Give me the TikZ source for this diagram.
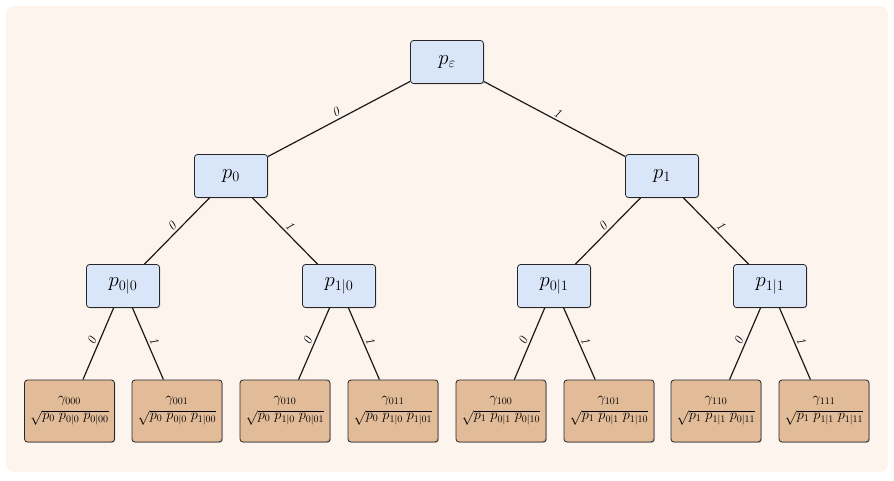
\documentclass[tikz,border=0pt]{standalone}
\usepackage{amsmath}
\usetikzlibrary{shadows}
\definecolor{bgc}{HTML}{FDF4EE}
\definecolor{bluefill}{HTML}{D9E5F8}
\definecolor{leaffill}{HTML}{E2BC98}
\definecolor{edgec}{HTML}{1A1A1A}
\begin{document}
\begin{tikzpicture}[x=1pt,y=-1pt,
  boxbase/.style={draw=black!85, rounded corners=3pt, line width=0.8pt,
    drop shadow={shadow xshift=0.9pt, shadow yshift=-0.9pt, opacity=0.4}},
  inner/.style={boxbase, fill=bluefill, minimum width=73pt, minimum height=43pt,
    font=\fontsize{20}{24}\selectfont},
  leaf/.style={boxbase, fill=leaffill, minimum width=90pt, minimum height=62pt,
    inner sep=1pt, align=center, font=\fontsize{14.5}{17}\selectfont},
  edge/.style={draw=edgec, line width=1.2pt},
  lab/.style={midway, above, sloped, inner sep=2pt, font=\fontsize{13}{14}\selectfont\itshape}
]
\useasboundingbox (0,0) rectangle (894,480);
\fill[bgc, rounded corners=8pt] (6,6) rectangle (888,472);

\node[inner] (r) at (447,62) {$p_\varepsilon$};
\node[inner] (a) at (231,176) {$p_0$};
\node[inner] (b) at (662,176) {$p_1$};
\node[inner] (aa) at (123,286) {$p_{0|0}$};
\node[inner] (ab) at (339,286) {$p_{1|0}$};
\node[inner] (ba) at (554,286) {$p_{0|1}$};
\node[inner] (bb) at (770,286) {$p_{1|1}$};

\node[leaf] (l000) at (69.5,411) {$\gamma_{000}$\\$\sqrt{p_0\;p_{0|0}\;p_{0|00}}$};
\node[leaf] (l001) at (177,411) {$\gamma_{001}$\\$\sqrt{p_0\;p_{0|0}\;p_{1|00}}$};
\node[leaf] (l010) at (285,411) {$\gamma_{010}$\\$\sqrt{p_0\;p_{1|0}\;p_{0|01}}$};
\node[leaf] (l011) at (393,411) {$\gamma_{011}$\\$\sqrt{p_0\;p_{1|0}\;p_{1|01}}$};
\node[leaf] (l100) at (501,411) {$\gamma_{100}$\\$\sqrt{p_1\;p_{0|1}\;p_{0|10}}$};
\node[leaf] (l101) at (609,411) {$\gamma_{101}$\\$\sqrt{p_1\;p_{0|1}\;p_{1|10}}$};
\node[leaf] (l110) at (716,411) {$\gamma_{110}$\\$\sqrt{p_1\;p_{1|1}\;p_{0|11}}$};
\node[leaf] (l111) at (824,411) {$\gamma_{111}$\\$\sqrt{p_1\;p_{1|1}\;p_{1|11}}$};

\draw[edge] (r) -- node[lab]{0} (a);
\draw[edge] (r) -- node[lab]{1} (b);
\draw[edge] (a) -- node[lab]{0} (aa);
\draw[edge] (a) -- node[lab]{1} (ab);
\draw[edge] (b) -- node[lab]{0} (ba);
\draw[edge] (b) -- node[lab]{1} (bb);
\draw[edge] (aa) -- node[lab]{0} (l000);
\draw[edge] (aa) -- node[lab]{1} (l001);
\draw[edge] (ab) -- node[lab]{0} (l010);
\draw[edge] (ab) -- node[lab]{1} (l011);
\draw[edge] (ba) -- node[lab]{0} (l100);
\draw[edge] (ba) -- node[lab]{1} (l101);
\draw[edge] (bb) -- node[lab]{0} (l110);
\draw[edge] (bb) -- node[lab]{1} (l111);
\end{tikzpicture}
\end{document}
